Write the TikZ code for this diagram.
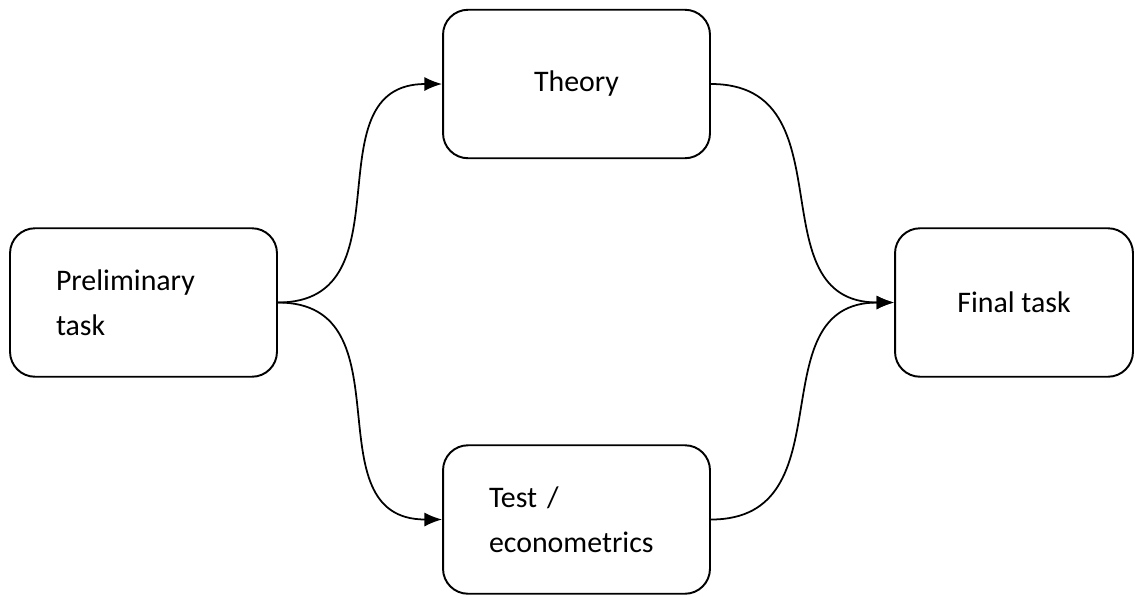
\documentclass[tikz,border=0pt]{standalone}
\usepackage{fontspec}
\setmainfont{Carlito}
\usetikzlibrary{arrows.meta, positioning}

\begin{document}
\begin{tikzpicture}[
  x=0.02cm, y=-0.02cm,
  task/.style={
    draw=black, line width=1.1pt, rounded corners=0.5cm,
    minimum width=5.34cm, minimum height=2.97cm,
    font=\fontsize{17}{25.5}\selectfont, text=black
  },
  flow/.style={line width=1pt, -{Latex[length=10pt,width=8pt]}}
]
  \useasboundingbox (0,0) rectangle (1135,596);

  \node[task, text width=3.5cm, align=left] (prelim) at (143.5,302.5) {Preliminary\\task};
  \node[task, align=center] (theory) at (576.5,84) {Theory};
  \node[task, text width=3.5cm, align=left] (test) at (576.5,519.5) {Test /\\econometrics};
  \node[task, align=center, minimum width=4.76cm] (final) at (1014,302.5) {Final task};

  \draw[flow] (prelim.east) to[out=0, in=180, looseness=1.25] (theory.west);
  \draw[flow] (prelim.east) to[out=0, in=180, looseness=1.25] (test.west);
  \draw[flow] (theory.east) to[out=0, in=180, looseness=1.25] (final.west);
  \draw[flow] (test.east) to[out=0, in=180, looseness=1.25] (final.west);
\end{tikzpicture}
\end{document}
